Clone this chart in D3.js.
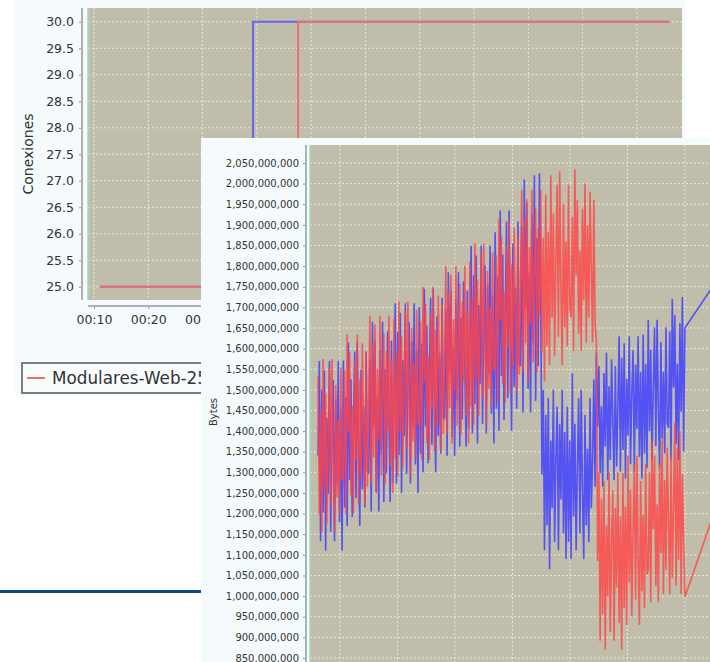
<!DOCTYPE html>
<html>
<head>
<meta charset="utf-8">
<script src="https://cdn.jsdelivr.net/npm/d3@7"></script>
<style>
  html, body { margin: 0; padding: 0; background: #fff; }
  svg { display: block; }
</style>
</head>
<body>
<svg id="chart" width="710" height="662"></svg>
<script>
// ---- back chart: Conexiones (step lines) ----
const connTicks = [25.0, 25.5, 26.0, 26.5, 27.0, 27.5, 28.0, 28.5, 29.0, 29.5, 30.0];
const timeTickMinutes = [10, 20, 30, 40, 50, 60, 70, 80, 90, 100, 110];
// only the first labels are not covered by the front window
const timeLabelMinutes = [10, 20, 30];
const timeTickLabels = ['00:10', '00:20', '00:30'];
const connBlueMinutes = [11.1, 39.3, 39.3, 116];
const connBlue = [25, 25, 30, 30];
const connRedMinutes = [11.1, 47.6, 47.6, 116];
const connRed = [25, 25, 30, 30];
const legendLabel = 'Modulares-Web-25';

// ---- front chart: Bytes (millions) ----
const bytesTicks = [850, 900, 950, 1000, 1050, 1100, 1150, 1200, 1250, 1300, 1350, 1400, 1450,
  1500, 1550, 1600, 1650, 1700, 1750, 1800, 1850, 1900, 1950, 2000, 2050];
const frontGridMinutes = [10, 20, 30, 40, 50, 60, 70];
const sampleStart = 6.2;   // minute of first sample
const sampleStep = 0.22;   // minutes between samples
const tailMinute = 78;     // next sample after the gap

const blueBytes = [
  1340, 1570, 1133, 1501, 1202, 1547, 1110, 1432, 1248, 1570, 1156, 1386, 1524, 1133, 1478, 1271, 1570, 1179, 1455, 1110,
  1571, 1215, 1482, 1170, 1615, 1281, 1526, 1192, 1415, 1593, 1237, 1615, 1348, 1170, 1548, 1259, 1459, 1215, 1593, 1304,
  1297, 1573, 1205, 1665, 1412, 1619, 1251, 1481, 1205, 1596, 1343, 1665, 1228, 1550, 1297, 1642, 1435, 1228, 1619, 1274,
  1480, 1710, 1273, 1641, 1342, 1687, 1250, 1572, 1388, 1710, 1296, 1526, 1664, 1273, 1618, 1411, 1710, 1319, 1595, 1250,
  1701, 1345, 1612, 1300, 1745, 1411, 1656, 1322, 1545, 1723, 1367, 1745, 1478, 1300, 1678, 1389, 1589, 1345, 1723, 1434,
  1429, 1696, 1340, 1785, 1540, 1741, 1385, 1607, 1340, 1718, 1474, 1785, 1362, 1674, 1429, 1763, 1563, 1362, 1741, 1407,
  1610, 1850, 1394, 1778, 1466, 1826, 1370, 1706, 1514, 1850, 1418, 1658, 1802, 1394, 1754, 1538, 1850, 1442, 1730, 1370,
  1882, 1454, 1775, 1400, 1935, 1534, 1828, 1427, 1694, 1908, 1480, 1935, 1614, 1400, 1855, 1507, 1748, 1454, 1908, 1561,
  1558, 1897, 1445, 2010, 1699, 1954, 1502, 1784, 1445, 1925, 1615, 2020, 1473, 1869, 1558, 2025, 1728,
  1295, 1500, 1111, 1439, 1172, 1480, 1065, 1377, 1213, 1500, 1131, 1336, 1459, 1111, 1418, 1234, 1500, 1152, 1398, 1090,
  1459, 1131, 1377, 1090, 1540, 1193, 1418, 1111, 1316, 1480, 1152, 1500, 1254, 1090, 1439, 1172, 1357, 1131, 1480, 1213,
  1330, 1525, 1265, 1590, 1411, 1558, 1298, 1460, 1265, 1541, 1363, 1590, 1281, 1509, 1330, 1574, 1428, 1281, 1558, 1314,
  1458, 1630, 1302, 1578, 1354, 1613, 1285, 1527, 1389, 1630, 1320, 1492, 1596, 1302, 1561, 1406, 1630, 1337, 1544, 1285,
  1634, 1346, 1562, 1310, 1670, 1400, 1598, 1328, 1508, 1652, 1364, 1670, 1454, 1310, 1616, 1382, 1544, 1346, 1652, 1418,
  1408, 1642, 1330, 1720, 1506, 1681, 1369, 1564, 1330, 1662, 1447, 1725, 1350, 1650
];
const blueTail = 1816;

const redBytes = [
  1533, 1197, 1449, 1155, 1575, 1260, 1491, 1176, 1386, 1554, 1218, 1575, 1323, 1155, 1512, 1239, 1428, 1197, 1554, 1281,
  1287, 1548, 1200, 1635, 1396, 1592, 1244, 1461, 1200, 1570, 1331, 1635, 1222, 1526, 1287, 1613, 1418, 1222, 1592, 1265,
  1465, 1680, 1272, 1616, 1336, 1659, 1250, 1551, 1379, 1680, 1293, 1508, 1637, 1272, 1594, 1401, 1680, 1315, 1573, 1250,
  1673, 1333, 1588, 1290, 1715, 1396, 1630, 1311, 1524, 1694, 1354, 1715, 1460, 1290, 1651, 1375, 1566, 1333, 1694, 1418,
  1414, 1666, 1330, 1750, 1519, 1708, 1372, 1582, 1330, 1687, 1456, 1750, 1351, 1645, 1414, 1729, 1540, 1351, 1708, 1393,
  1585, 1800, 1392, 1736, 1456, 1779, 1370, 1671, 1499, 1800, 1413, 1628, 1757, 1392, 1714, 1521, 1800, 1435, 1693, 1370,
  1811, 1459, 1723, 1415, 1855, 1525, 1767, 1437, 1657, 1833, 1481, 1855, 1591, 1415, 1789, 1503, 1701, 1459, 1833, 1547,
  1559, 1826, 1470, 1915, 1670, 1871, 1515, 1737, 1470, 1848, 1604, 1915, 1492, 1804, 1559, 1893, 1693, 1492, 1871, 1537,
  1753, 1985, 1543, 1915, 1613, 1962, 1520, 1846, 1660, 1985, 1567, 1799, 1939, 1543, 1892, 1683, 1985, 1590, 1869, 1520,
  1974, 1606, 1882, 1560, 2020, 1675, 1928, 1583, 1813, 1997, 1629, 2030, 1744, 1560, 1951, 1652, 1859, 1606, 1997, 1698,
  1676, 1919, 1595, 2035, 1777, 1960, 1636, 1838, 1595, 1939, 1717, 2000, 1615, 1899, 1676, 1980, 1798, 1615, 1960, 1656, 1620,
  1085, 1300, 892, 1236, 956, 1279, 870, 1171, 999, 1300, 913, 1128, 1257, 892, 1214, 1021, 1300, 935, 1193, 870,
  1299, 971, 1217, 930, 1340, 1033, 1258, 951, 1156, 1320, 992, 1340, 1094, 930, 1279, 1012, 1197, 971, 1320, 1053,
  1064, 1301, 985, 1380, 1163, 1341, 1025, 1222, 985, 1321, 1104, 1380, 1005, 1281, 1064, 1360, 1183, 1005, 1341, 1044,
  1213, 1420, 1026, 1358, 1088, 1399, 1005, 1296, 1130, 998
];
const redTail = 1320;

const FONT = '"DejaVu Sans", sans-serif';
const plotBg = '#c0bdab';
const panelBg = '#f5fbfc';
const gridColor = '#e4ecd4';

const svg = d3.select('#chart');

// ================= back chart =================
svg.append('rect')
  .attr('x', 15).attr('y', 0).attr('width', 670).attr('height', 395)
  .attr('fill', panelBg);

const backPlot = { left: 88, top: 8, right: 682, bottom: 300 };
const xBack = d3.scaleLinear().domain([8.9, 118.3]).range([backPlot.left, backPlot.right]);
const yBack = d3.scaleLinear().domain([24.75, 30.26]).range([backPlot.bottom, backPlot.top]);

svg.append('rect')
  .attr('x', backPlot.left).attr('y', backPlot.top)
  .attr('width', backPlot.right - backPlot.left)
  .attr('height', backPlot.bottom - backPlot.top)
  .attr('fill', plotBg);

const backGrid = svg.append('g');
backGrid.selectAll('.hg').data(connTicks).enter().append('line')
  .attr('x1', backPlot.left).attr('x2', backPlot.right)
  .attr('y1', (d) => yBack(d)).attr('y2', (d) => yBack(d))
  .attr('stroke', gridColor).attr('stroke-dasharray', '2,2');
backGrid.selectAll('.vg').data(timeTickMinutes).enter().append('line')
  .attr('y1', backPlot.top).attr('y2', backPlot.bottom)
  .attr('x1', (d) => xBack(d)).attr('x2', (d) => xBack(d))
  .attr('stroke', gridColor).attr('stroke-dasharray', '2,2');

svg.append('line')
  .attr('x1', backPlot.left).attr('x2', backPlot.left)
  .attr('y1', backPlot.top).attr('y2', backPlot.bottom)
  .attr('stroke', '#9fdcbc').attr('stroke-width', 1.5);

// step lines
const connLine = d3.line().x((d) => xBack(d[0])).y((d) => yBack(d[1]));
svg.append('path')
  .datum(d3.zip(connBlueMinutes, connBlue))
  .attr('d', connLine)
  .attr('fill', 'none').attr('stroke', '#6464ec').attr('stroke-width', 2);
svg.append('path')
  .datum(d3.zip(connRedMinutes, connRed))
  .attr('d', connLine)
  .attr('fill', 'none').attr('stroke', '#ec7070').attr('stroke-width', 2);

// axes
const yAxisBack = svg.append('g')
  .attr('transform', 'translate(82,0)')
  .call(d3.axisLeft(yBack).tickValues(connTicks).tickFormat(d3.format('.1f')).tickSize(3).tickPadding(5));
yAxisBack.select('.domain').remove();
yAxisBack.selectAll('line').attr('stroke', '#5aa8b8');
yAxisBack.selectAll('text').attr('font-family', FONT).attr('font-size', 12.5).attr('fill', '#333');
svg.append('line')
  .attr('x1', 82).attr('x2', 82).attr('y1', backPlot.top).attr('y2', backPlot.bottom)
  .attr('stroke', '#a8b2b8').attr('stroke-width', 2);

const xAxisBack = svg.append('g')
  .attr('transform', 'translate(0,306)')
  .call(d3.axisBottom(xBack).tickValues(timeLabelMinutes)
    .tickFormat((d, i) => timeTickLabels[i]).tickSize(3).tickPadding(6));
xAxisBack.select('.domain').remove();
xAxisBack.selectAll('line').attr('stroke', '#5aa8b8');
xAxisBack.selectAll('text').attr('font-family', FONT).attr('font-size', 12.5).attr('fill', '#333');
svg.append('line')
  .attr('x1', backPlot.left).attr('x2', backPlot.right).attr('y1', 306).attr('y2', 306)
  .attr('stroke', '#a8b2b8').attr('stroke-width', 2);

svg.append('text')
  .attr('transform', 'translate(33,154) rotate(-90)')
  .attr('text-anchor', 'middle')
  .attr('font-family', FONT).attr('font-size', 14).attr('fill', '#333')
  .text('Conexiones');

// legend
svg.append('rect')
  .attr('x', 22).attr('y', 363).attr('width', 260).attr('height', 30)
  .attr('fill', '#f8fcfc').attr('stroke', '#555').attr('stroke-width', 1.5);
svg.append('line')
  .attr('x1', 27).attr('x2', 45).attr('y1', 378).attr('y2', 378)
  .attr('stroke', '#ec7070').attr('stroke-width', 2);
svg.append('text')
  .attr('x', 52).attr('y', 384)
  .attr('font-family', FONT).attr('font-size', 16.8).attr('fill', '#333')
  .text(legendLabel);

// slide rule line
svg.append('line')
  .attr('x1', 0).attr('x2', 201).attr('y1', 591.5).attr('y2', 591.5)
  .attr('stroke', '#0d4a80').attr('stroke-width', 3);

// ================= front chart =================
svg.append('rect')
  .attr('x', 201).attr('y', 138).attr('width', 520).attr('height', 530)
  .attr('fill', panelBg);

const frontPlot = { left: 310, top: 145, right: 710, bottom: 662 };
const xFront = d3.scaleLinear().domain([4.8, 74.5]).range([frontPlot.left, 710.8]);
const yFront = d3.scaleLinear().domain([840.3, 2093.6]).range([frontPlot.bottom, frontPlot.top]);

svg.append('defs').append('clipPath').attr('id', 'front-clip')
  .append('rect')
  .attr('x', frontPlot.left).attr('y', frontPlot.top)
  .attr('width', frontPlot.right - frontPlot.left)
  .attr('height', frontPlot.bottom - frontPlot.top);

svg.append('rect')
  .attr('x', frontPlot.left).attr('y', frontPlot.top)
  .attr('width', frontPlot.right - frontPlot.left)
  .attr('height', frontPlot.bottom - frontPlot.top)
  .attr('fill', plotBg);

const frontGrid = svg.append('g');
frontGrid.selectAll('.hg').data(bytesTicks).enter().append('line')
  .attr('x1', frontPlot.left).attr('x2', frontPlot.right)
  .attr('y1', (d) => yFront(d)).attr('y2', (d) => yFront(d))
  .attr('stroke', gridColor).attr('stroke-dasharray', '2,2');
frontGrid.selectAll('.vg').data(frontGridMinutes).enter().append('line')
  .attr('y1', frontPlot.top).attr('y2', frontPlot.bottom)
  .attr('x1', (d) => xFront(d)).attr('x2', (d) => xFront(d))
  .attr('stroke', gridColor).attr('stroke-dasharray', '2,2');

svg.append('line')
  .attr('x1', frontPlot.left).attr('x2', frontPlot.left)
  .attr('y1', frontPlot.top).attr('y2', frontPlot.bottom)
  .attr('stroke', '#9fdcbc').attr('stroke-width', 1.5);

function toPoints(values, tail) {
  const pts = values.map((v, i) => [sampleStart + i * sampleStep, v]);
  pts.push([tailMinute, tail]);
  return pts;
}

const bytesLine = d3.line().x((d) => xFront(d[0])).y((d) => yFront(d[1]));
const series = svg.append('g').attr('clip-path', 'url(#front-clip)');
series.append('path')
  .datum(toPoints(blueBytes, blueTail))
  .attr('d', bytesLine)
  .attr('fill', 'none').attr('stroke', '#4040ff').attr('stroke-width', 1.6)
  .attr('stroke-opacity', 0.85).attr('stroke-linejoin', 'bevel');
series.append('path')
  .datum(toPoints(redBytes, redTail))
  .attr('d', bytesLine)
  .attr('fill', 'none').attr('stroke', '#ff4444').attr('stroke-width', 1.6)
  .attr('stroke-opacity', 0.82).attr('stroke-linejoin', 'bevel');

const yAxisFront = svg.append('g')
  .attr('transform', 'translate(306,0)')
  .call(d3.axisLeft(yFront).tickValues(bytesTicks)
    .tickFormat((d) => d3.format(',')(d * 1e6)).tickSize(3).tickPadding(4));
yAxisFront.select('.domain').remove();
yAxisFront.selectAll('line').attr('stroke', '#5aa8b8');
yAxisFront.selectAll('text').attr('font-family', FONT).attr('font-size', 10).attr('fill', '#333');
svg.append('line')
  .attr('x1', 306).attr('x2', 306).attr('y1', frontPlot.top).attr('y2', frontPlot.bottom)
  .attr('stroke', '#a8b2b8').attr('stroke-width', 2);

svg.append('text')
  .attr('transform', 'translate(217,412) rotate(-90)')
  .attr('text-anchor', 'middle')
  .attr('font-family', FONT).attr('font-size', 10).attr('fill', '#333')
  .text('Bytes');
</script>
</body>
</html>
